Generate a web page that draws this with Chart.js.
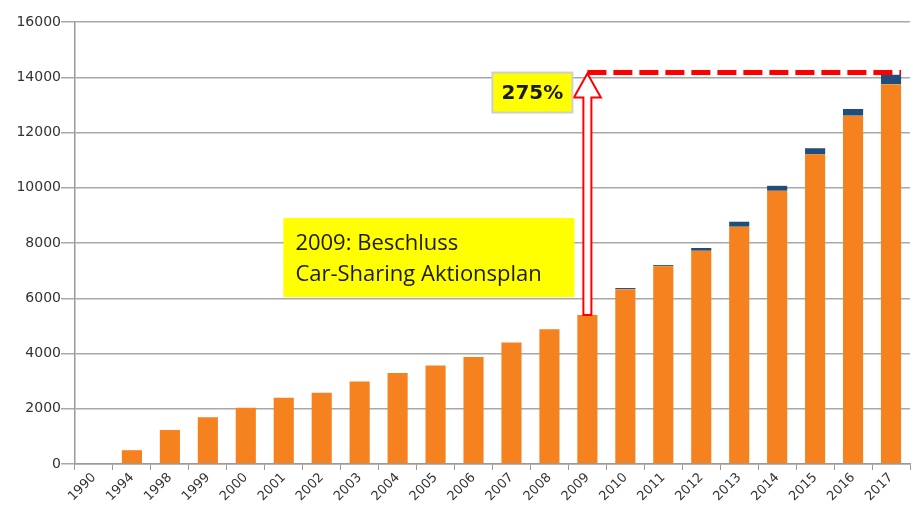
<!DOCTYPE html>
<html lang="de">
<head>
<meta charset="UTF-8">
<title>Car-Sharing Entwicklung</title>
<script src="https://cdn.jsdelivr.net/npm/chart.js"></script>
<style>
    html, body { margin: 0; padding: 0; background: #fff; }
    #wrap { width: 913px; height: 516px; }
</style>
</head>
<body>
<div id="wrap"><canvas id="chart" width="913" height="516"></canvas></div>
<script>
// Jahre (Kategorien)
const jahre = ['1990', '1994', '1998', '1999', '2000', '2001', '2002', '2003', '2004', '2005', '2006',
    '2007', '2008', '2009', '2010', '2011', '2012', '2013', '2014', '2015', '2016', '2017'];
// orange Säulen
const basis = [0, 500, 1230, 1690, 2040, 2400, 2580, 2990, 3290, 3570, 3870,
    4400, 4880, 5390, 6330, 7160, 7720, 8590, 9890, 11210, 12610, 13750];
// blaue Aufsätze
const zusatz = [0, 0, 0, 0, 0, 0, 0, 0, 0, 0, 0,
    0, 0, 0, 40, 40, 100, 180, 180, 220, 240, 340];
const yTicks = [0, 2000, 4000, 6000, 8000, 10000, 12000, 14000, 16000];
const zielWert = 14170;       // Höhe der gestrichelten Linie
const startJahr = '2009';
const prozentText = '275%';
const beschlussText = ['2009: Beschluss', 'Car-Sharing Aktionsplan'];

const annotationen = {
    id: 'annotationen',
    afterDatasetsDraw(chart) {
        const ctx = chart.ctx;
        const x = chart.scales.x, y = chart.scales.y;
        const i0 = jahre.indexOf(startJahr);
        const ax = x.getPixelForValue(i0);
        const yTop = y.getPixelForValue(zielWert);
        const yBase = y.getPixelForValue(basis[i0] + zusatz[i0]);
        const meta = chart.getDatasetMeta(0);
        const last = meta.data[meta.data.length - 1];
        const xEnd = last.x + last.width / 2;

        ctx.save();
        // gestrichelte Linie
        ctx.strokeStyle = '#ff0000';
        ctx.lineWidth = 5;
        ctx.setLineDash([19, 7]);
        ctx.beginPath();
        ctx.moveTo(ax, yTop);
        ctx.lineTo(xEnd, yTop);
        ctx.stroke();
        ctx.setLineDash([]);

        // Pfeil (hohl)
        const sw = 4, hw = 13.5, hh = 25;
        ctx.beginPath();
        ctx.moveTo(ax - sw, yBase);
        ctx.lineTo(ax - sw, yTop + hh);
        ctx.lineTo(ax - hw, yTop + hh);
        ctx.lineTo(ax, yTop + 1);
        ctx.lineTo(ax + hw, yTop + hh);
        ctx.lineTo(ax + sw, yTop + hh);
        ctx.lineTo(ax + sw, yBase);
        ctx.closePath();
        ctx.fillStyle = '#ffffff';
        ctx.fill();
        ctx.lineWidth = 2;
        ctx.strokeStyle = '#ff0000';
        ctx.stroke();

        // 275% Box
        const bx = ax - 95, by = yTop, bw = 80, bh = 40;
        ctx.fillStyle = '#ffff00';
        ctx.fillRect(bx, by, bw, bh);
        ctx.strokeStyle = '#cfcfcf';
        ctx.lineWidth = 2;
        ctx.strokeRect(bx, by, bw, bh);
        ctx.fillStyle = '#1a1a1a';
        ctx.font = 'bold 20px "DejaVu Sans"';
        ctx.textAlign = 'center';
        ctx.textBaseline = 'middle';
        ctx.fillText(prozentText, bx + bw / 2, by + bh / 2 + 1);

        // Beschluss Box
        const tx = ax - 304, ty = 218, tw = 291, th = 79;
        ctx.fillStyle = '#ffff00';
        ctx.fillRect(tx, ty, tw, th);
        ctx.fillStyle = '#1a1a1a';
        ctx.font = '22px "Open Sans"';
        ctx.textAlign = 'left';
        ctx.textBaseline = 'alphabetic';
        ctx.fillText(beschlussText[0], tx + 12, ty + 32);
        ctx.fillText(beschlussText[1], tx + 12, ty + 63);
        ctx.restore();
    }
};

new Chart(document.getElementById('chart').getContext('2d'), {
    type: 'bar',
    data: {
        labels: jahre,
        datasets: [
            { label: 'Basis', data: basis, backgroundColor: '#f5821f', barPercentage: 0.53, categoryPercentage: 1 },
            { label: 'Zusatz', data: zusatz, backgroundColor: '#1f4e7c', barPercentage: 0.53, categoryPercentage: 1 }
        ]
    },
    options: {
        responsive: false,
        animation: false,
        layout: { padding: { top: 22, right: 3, left: 0, bottom: 0 } },
        plugins: { legend: { display: false }, tooltip: { enabled: false } },
        scales: {
            x: {
                stacked: true,
                afterFit: s => { s.height = 52; },
                grid: { drawOnChartArea: false, drawTicks: true, tickLength: 6, color: '#9a9a9a', offset: true },
                border: { color: '#9a9a9a', width: 1.5 },
                ticks: { minRotation: 45, maxRotation: 45, autoSkip: false, color: '#333', padding: 0,
                    font: { family: 'DejaVu Sans', size: 13 } }
            },
            y: {
                stacked: true,
                min: 0, max: 16000,
                afterFit: s => { s.width = 75; },
                afterBuildTicks: s => { s.ticks = yTicks.map(v => ({ value: v })); },
                grid: { color: '#a8a8a8', lineWidth: 1.5, tickLength: 14 },
                border: { color: '#9a9a9a', width: 1.5 },
                ticks: { color: '#333', padding: 0, font: { family: 'DejaVu Sans', size: 14 },
                    callback: v => String(v) }
            }
        }
    },
    plugins: [annotationen]
});
</script>
</body>
</html>
